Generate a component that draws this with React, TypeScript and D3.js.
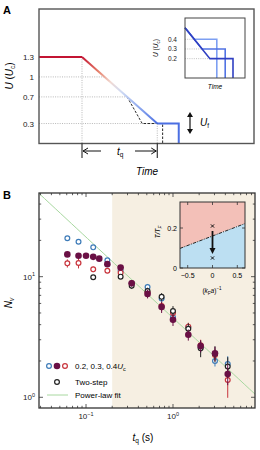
import React from "react";
import * as d3 from "d3";

// ---- panel A: trap depth ramp ----
const holdEnd = 2.0;
const rampEnd = 5.5;
const stepEnd = 6.5;
const startLevel = 1.3;
const finalLevel = 0.3;
const guideLevels = [1.3, 1, 0.7, 0.3];
const twoStepT = [4.1, 4.8, 5.75, 5.75];
const twoStepU = [0.7, 0.3, 0.3, 0];

// inset of A
const insetLevels = [0.4, 0.3, 0.2];
const insetHoldEnd = [0.53, 0.67, 0.8];
const insetColors = ["#7d9ff2", "#5273e3", "#3040c2"];
const insetStart = 0.52;
const insetSlope = 0.77;

// ---- panel B: vortex number vs quench time ----
const tq = [0.061, 0.082, 0.1, 0.121, 0.142, 0.176, 0.25, 0.335, 0.51, 0.74, 1.0, 1.5, 2.08, 3.04, 4.26];
const nBlue = [20.8, 19.5, null, 17.5, null, 13.7, 11.2, 8.8, 8.2, 6.6, 4.6, 3.8, 2.6, 2.0, 1.89];
const nFilled = [15.3, 14.9, 14.9, 14.6, 14.1, 12.7, 11.9, 8.8, 7.2, 5.6, 4.4, 3.3, 2.66, 2.32, 1.56];
const nRed = [12.9, 13.0, null, 11.5, null, 11.2, 10.8, 8.8, 7.4, 5.7, 5.0, 3.85, 2.7, 2.24, 1.39];
const nTwoStep = [null, null, null, 9.9, null, null, 10.0, 8.4, 7.6, 6.8, 5.2, 3.7, 2.55, 2.3, 1.8];
const eBlue = [0.6, 0.6, 0, 0.6, 0, 0.6, 0.5, 0.4, 0.5, 0.5, 0.4, 0.3, 0.25, 0.2, 0.3];
const eFilled = [0.5, 0.6, 0.4, 0.5, 0.4, 0.6, 0.6, 0.5, 0.6, 0.6, 0.5, 0.35, 0.3, 0.3, 0.3];
const eRed = [1.0, 1.3, 0, 0.6, 0, 0.5, 0.4, 0.4, 0.5, 0.5, 0.4, 0.3, 0.3, 0.25, 0.4];
const eTwoStep = [0, 0, 0, 0.3, 0, 0, 0.3, 0.5, 0.5, 0.5, 0.5, 0.4, 0.4, 0.35, 0.35];
const fitAmp = 4.55;
const fitExp = -0.67;
const shadeFrom = 0.2;

// inset of B: phase diagram
const boundaryX = [-0.655, 0.655];
const boundaryT = [0.098, 0.222];
const crossT = [0.21, 0.05];

const FONT = "Liberation Sans, Arial, sans-serif";
const sup = (base: string, exp: string, x: number, y: number, anchor = "middle") => (
  <text x={x} y={y} fontSize={8} textAnchor={anchor} fontFamily={FONT} fill="#222">
    {base}
    <tspan dy={-3.5} fontSize={5.5}>{exp}</tspan>
  </text>
);

export default function App() {
  // A scales
  const xA = d3.scaleLinear().domain([0, 10]).range([39, 254]);
  const yA = d3.scaleLinear().domain([0, 2.02]).range([143.5, 9]);
  const slope = (startLevel - finalLevel) / (rampEnd - holdEnd);
  const tAt = (u: number) => holdEnd + (startLevel - u) / slope;
  const line = d3.line<[number, number]>().x((d) => xA(d[0])).y((d) => yA(d[1]));

  // A inset scales
  const xI = d3.scaleLinear().domain([0, 1]).range([185, 245]);
  const yI = d3.scaleLinear().domain([0, 0.62]).range([78, 18]);

  // B scales
  const xB = d3.scaleLog().domain([0.0288, 8.77]).range([39, 255]);
  const yB = d3.scaleLog().domain([0.815, 49.4]).range([408, 193]);
  const [bx0, bx1] = xB.range();
  const [by0, by1] = yB.range();

  const xMinor: number[] = [];
  [0.01, 0.1, 1].forEach((p) => d3.range(1, 10).forEach((k) => {
    const v = k * p;
    if (v >= 0.0288 && v <= 8.77) xMinor.push(v);
  }));
  const yMinor: number[] = [];
  [1, 10].forEach((p) => d3.range(1, 10).forEach((k) => {
    const v = k * p;
    if (v >= 0.815 && v <= 49.4) yMinor.push(v);
  }));
  const isMajor = (v: number) => Math.abs(Math.log10(v) - Math.round(Math.log10(v))) < 1e-6;

  // B inset scales
  const xP = d3.scaleLinear().domain([-0.655, 0.655]).range([180, 245]);
  const yP = d3.scaleLinear().domain([0, 0.33]).range([268, 202]);

  const series = [
    { n: nBlue, e: eBlue, stroke: "#3d7bb8", fill: "#fff", r: 2.4, sw: 1.2 },
    { n: nRed, e: eRed, stroke: "#c8343c", fill: "#fff", r: 2.4, sw: 1.2 },
    { n: nTwoStep, e: eTwoStep, stroke: "#222", fill: "#fff", r: 2.4, sw: 1.2 },
    { n: nFilled, e: eFilled, stroke: "#6a1045", fill: "#6a1045", r: 3.3, sw: 0 },
  ];

  const fitLine = d3.line<number>().x((t) => xB(t)).y((t) => yB(fitAmp * Math.pow(t, fitExp)));
  const fitTs = d3.range(0, 41).map((i) => 0.0288 * Math.pow(8.77 / 0.0288, i / 40));

  return (
    <svg width={260} height={450} style={{ position: "absolute", left: 0, top: 0 }} fontFamily={FONT}>
      <defs>
        <linearGradient id="ramp" gradientUnits="userSpaceOnUse"
          x1={xA(holdEnd)} y1={yA(startLevel)} x2={xA(rampEnd)} y2={yA(finalLevel)}>
          <stop offset="0" stopColor="#c31432" />
          <stop offset="0.22" stopColor="#e6806a" />
          <stop offset="0.38" stopColor="#f1d9d2" />
          <stop offset="0.52" stopColor="#cfdaf3" />
          <stop offset="0.78" stopColor="#88a4ee" />
          <stop offset="1" stopColor="#4b6fe2" />
        </linearGradient>
        <clipPath id="clipB"><rect x={bx0} y={by1} width={bx1 - bx0} height={by0 - by1} /></clipPath>
        <clipPath id="clipP"><rect x={180} y={202} width={65} height={66} /></clipPath>
      </defs>

      {/* ================= Panel A ================= */}
      <text x={3} y={14} fontSize={11} fontWeight="bold">A</text>
      {guideLevels.map((u) => (
        <g key={u}>
          <line x1={xA(0)} x2={xA(u === startLevel ? holdEnd : tAt(u))} y1={yA(u)} y2={yA(u)}
            stroke="#999" strokeWidth={0.7} strokeDasharray="1,1.3" />
          <text x={34} y={yA(u) + 3} fontSize={8} textAnchor="end" fill="#222">{u}</text>
        </g>
      ))}
      {[holdEnd, rampEnd].map((t) => (
        <line key={t} x1={xA(t)} x2={xA(t)} y1={yA(t === holdEnd ? startLevel : finalLevel)} y2={yA(0)}
          stroke="#999" strokeWidth={0.7} strokeDasharray="1,1.3" />
      ))}
      <path d={line(twoStepT.map((t, i) => [t, twoStepU[i]]))!} fill="none" stroke="#111" strokeWidth={0.9} strokeDasharray="2.5,1.5" />
      <path d={line([[0, startLevel], [holdEnd, startLevel]])!} fill="none" stroke="#c31432" strokeWidth={2} />
      <path d={line([[holdEnd, startLevel], [rampEnd, finalLevel]])!} fill="none" stroke="url(#ramp)" strokeWidth={2} />
      <path d={line([[rampEnd, finalLevel], [stepEnd, finalLevel], [stepEnd, 0]])!} fill="none" stroke="#4b6fe2" strokeWidth={2} />
      <rect x={39} y={9} width={215} height={134.5} fill="none" stroke="#555" strokeWidth={1.4} />

      {/* U_f arrow */}
      <g stroke="#111" strokeWidth={1.2} fill="#111">
        <line x1={190} x2={190} y1={115} y2={131} />
        <path d="M187,117 L190,112 L193,117 Z" stroke="none" />
        <path d="M187,129 L190,134 L193,129 Z" stroke="none" />
      </g>
      <text x={200} y={126} fontSize={10} fontStyle="italic">U<tspan fontSize={6.5} fontStyle="normal" dy={2}>f</tspan></text>

      {/* t_q arrows */}
      <g stroke="#111" strokeWidth={1}>
        <line x1={xA(holdEnd)} x2={xA(holdEnd)} y1={143.5} y2={158} />
        <line x1={xA(rampEnd)} x2={xA(rampEnd)} y1={143.5} y2={158} />
        <line x1={xA(holdEnd) + 1} x2={101} y1={151} y2={151} />
        <line x1={135} x2={xA(rampEnd) - 1} y1={151} y2={151} />
        <path d={`M${xA(holdEnd) + 6},148 L${xA(holdEnd) + 1},151 L${xA(holdEnd) + 6},154`} fill="none" />
        <path d={`M${xA(rampEnd) - 6},148 L${xA(rampEnd) - 1},151 L${xA(rampEnd) - 6},154`} fill="none" />
      </g>
      <text x={117} y={155} fontSize={10} fontStyle="italic">t<tspan fontSize={6.5} fontStyle="normal" dy={2}>q</tspan></text>
      <text x={147} y={175} fontSize={10} fontStyle="italic" textAnchor="middle">Time</text>
      <text transform="translate(13,76) rotate(-90)" fontSize={10} textAnchor="middle">
        <tspan fontStyle="italic">U</tspan> (<tspan fontStyle="italic">U</tspan><tspan fontSize={6.5} dy={2}>c</tspan><tspan dy={-2}>)</tspan>
      </text>

      {/* inset A */}
      <rect x={185} y={18} width={60} height={60} fill="#fff" />
      {insetLevels.map((u) => (
        <g key={u}>
          <line x1={xI(0)} x2={xI((insetStart - u) / insetSlope)} y1={yI(u)} y2={yI(u)}
            stroke="#999" strokeWidth={0.6} strokeDasharray="1,1.2" />
          <text x={177} y={yI(u) + 2.5} fontSize={6.5} textAnchor="end" fill="#222">{u}</text>
        </g>
      ))}
      {insetLevels.map((u, i) => (
        <path key={u} fill="none" stroke={insetColors[i]} strokeWidth={1.6}
          d={d3.line<[number, number]>().x((d) => xI(d[0])).y((d) => yI(d[1]))([
            [0, insetStart], [(insetStart - u) / insetSlope, u], [insetHoldEnd[i], u], [insetHoldEnd[i], 0],
          ])!} />
      ))}
      <rect x={185} y={18} width={60} height={60} fill="none" stroke="#444" strokeWidth={1} />
      <text transform="translate(158,48) rotate(-90)" fontSize={6.5} textAnchor="middle">
        <tspan fontStyle="italic">U</tspan> (<tspan fontStyle="italic">U</tspan><tspan fontSize={4.5} dy={1.5}>c</tspan><tspan dy={-1.5}>)</tspan>
      </text>
      <text x={215} y={89} fontSize={6.5} fontStyle="italic" textAnchor="middle">Time</text>

      {/* ================= Panel B ================= */}
      <text x={3} y={199} fontSize={11} fontWeight="bold">B</text>
      <rect x={xB(shadeFrom)} y={by1} width={bx1 - xB(shadeFrom)} height={by0 - by1} fill="#f6efe2" />
      <path d={fitLine(fitTs)!} fill="none" stroke="#a8d8a0" strokeWidth={1} clipPath="url(#clipB)" />

      {series.map((s, si) => (
        <g key={si}>
          {tq.map((t, i) => {
            const v = s.n[i];
            if (v == null) return null;
            const e = s.e[i];
            return (
              <g key={i}>
                {e > 0 && <line x1={xB(t)} x2={xB(t)} y1={yB(v - e)} y2={yB(v + e)} stroke={s.stroke} strokeWidth={1} />}
                <circle cx={xB(t)} cy={yB(v)} r={s.r} fill={s.fill} stroke={s.stroke} strokeWidth={s.sw} />
              </g>
            );
          })}
        </g>
      ))}

      {/* ticks B */}
      <g stroke="#333" strokeWidth={0.8}>
        {xMinor.map((v) => {
          const L = isMajor(v) ? 4 : 2.2;
          return (
            <g key={"x" + v}>
              <line x1={xB(v)} x2={xB(v)} y1={by0} y2={by0 - L} />
              <line x1={xB(v)} x2={xB(v)} y1={by1} y2={by1 + L} />
            </g>
          );
        })}
        {yMinor.map((v) => {
          const L = isMajor(v) ? 4 : 2.2;
          return (
            <g key={"y" + v}>
              <line x1={bx0} x2={bx0 + L} y1={yB(v)} y2={yB(v)} />
              <line x1={bx1} x2={bx1 - L} y1={yB(v)} y2={yB(v)} />
            </g>
          );
        })}
      </g>
      <rect x={bx0} y={by1} width={bx1 - bx0} height={by0 - by1} fill="none" stroke="#333" strokeWidth={1.3} />
      {sup("10", "−1", xB(0.1), 419)}
      {sup("10", "0", xB(1), 419)}
      {sup("10", "1", 35, yB(10) + 3, "end")}
      {sup("10", "0", 35, yB(1) + 3, "end")}
      <text x={143} y={441} fontSize={10} textAnchor="middle">
        <tspan fontStyle="italic">t</tspan><tspan fontSize={6.5} dy={2}>q</tspan><tspan dy={-2}> (s)</tspan>
      </text>
      <text transform="translate(12,303) rotate(-90)" fontSize={10} textAnchor="middle" fontStyle="italic">
        N<tspan fontSize={6.5} dy={2}>v</tspan>
      </text>

      {/* legend */}
      <circle cx={49} cy={366} r={2.4} fill="#fff" stroke="#3d7bb8" strokeWidth={1.2} />
      <circle cx={57} cy={366} r={3.3} fill="#6a1045" />
      <circle cx={65} cy={366} r={2.4} fill="#fff" stroke="#c8343c" strokeWidth={1.2} />
      <text x={75} y={369} fontSize={8}>0.2, 0.3, 0.4<tspan fontStyle="italic">U</tspan><tspan fontSize={5.5} dy={1.8}>c</tspan></text>
      <circle cx={57} cy={382} r={2.4} fill="#fff" stroke="#222" strokeWidth={1.2} />
      <text x={75} y={385} fontSize={8}>Two-step</text>
      <line x1={47} x2={68} y1={395} y2={395} stroke="#a8d8a0" strokeWidth={1} />
      <text x={75} y={398} fontSize={8}>Power-law fit</text>

      {/* inset B: phase diagram */}
      <g clipPath="url(#clipP)">
        <path d={`M${xP(boundaryX[0])},${yP(boundaryT[0])} L${xP(boundaryX[1])},${yP(boundaryT[1])} L245,202 L180,202 Z`} fill="#f3c0b8" />
        <path d={`M${xP(boundaryX[0])},${yP(boundaryT[0])} L${xP(boundaryX[1])},${yP(boundaryT[1])} L245,268 L180,268 Z`} fill="#bcdff2" />
        <line x1={xP(boundaryX[0])} y1={yP(boundaryT[0])} x2={xP(boundaryX[1])} y2={yP(boundaryT[1])}
          stroke="#111" strokeWidth={0.9} strokeDasharray="3.5,1.2,1,1.2" />
      </g>
      <g stroke="#111" strokeWidth={1}>
        {crossT.map((t) => (
          <g key={t}>
            <line x1={xP(0) - 1.6} x2={xP(0) + 1.6} y1={yP(t) - 1.6} y2={yP(t) + 1.6} />
            <line x1={xP(0) - 1.6} x2={xP(0) + 1.6} y1={yP(t) + 1.6} y2={yP(t) - 1.6} />
          </g>
        ))}
        <line x1={xP(0)} x2={xP(0)} y1={yP(crossT[0]) + 5} y2={yP(crossT[1]) - 9} strokeWidth={1.8} />
        <path d={`M${xP(0) - 3},${yP(crossT[1]) - 10} L${xP(0)},${yP(crossT[1]) - 4} L${xP(0) + 3},${yP(crossT[1]) - 10} Z`} fill="#111" stroke="none" />
      </g>
      <g stroke="#333" strokeWidth={0.8}>
        {[-0.5, 0, 0.5].map((v) => (
          <g key={v}>
            <line x1={xP(v)} x2={xP(v)} y1={268} y2={265} />
            <line x1={xP(v)} x2={xP(v)} y1={202} y2={205} />
          </g>
        ))}
        {[0, 0.2].map((v) => (
          <g key={v}>
            <line x1={180} x2={183} y1={yP(v)} y2={yP(v)} />
            <line x1={245} x2={242} y1={yP(v)} y2={yP(v)} />
          </g>
        ))}
      </g>
      <rect x={180} y={202} width={65} height={66} fill="none" stroke="#333" strokeWidth={1} />
      {[-0.5, 0, 0.5].map((v) => (
        <text key={v} x={xP(v)} y={278} fontSize={7} textAnchor="middle">{v < 0 ? "−" + Math.abs(v) : String(v)}</text>
      ))}
      {[0, 0.2].map((v) => (
        <text key={v} x={177} y={yP(v) + 2.5} fontSize={7} textAnchor="end">{v}</text>
      ))}
      <text transform="translate(160,232) rotate(-90)" fontSize={6.5} textAnchor="middle" fontStyle="italic">
        T/T<tspan fontSize={4.5} dy={1.5}>F</tspan>
      </text>
      <text x={212} y={293} fontSize={6.5} textAnchor="middle">
        (<tspan fontStyle="italic">k</tspan><tspan fontSize={4.5} dy={1.5}>F</tspan><tspan fontStyle="italic" dy={-1.5}>a</tspan>)<tspan fontSize={4.5} dy={-3}>−1</tspan>
      </text>
    </svg>
  );
}
